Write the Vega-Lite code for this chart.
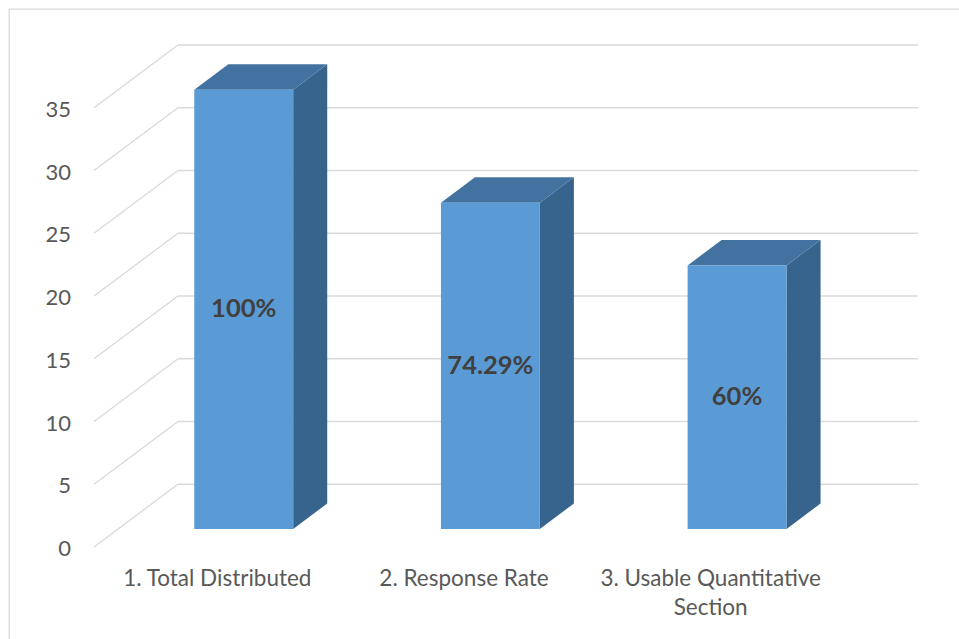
{
  "$schema": "https://vega.github.io/schema/vega-lite/v6.json",
  "width": 960,
  "height": 640,
  "autosize": {"type": "none"},
  "padding": {"left": 9, "top": 9, "right": 0, "bottom": 0},
  "background": "white",
  "config": {
    "view": {"stroke": "#d9d9d9", "strokeWidth": 1.3},
    "font": "Lato"
  },
  "datasets": {
    "bars": [
      {"category": "1. Total Distributed", "count": 35, "share": "100%"},
      {"category": "2. Response Rate", "count": 26, "share": "74.29%"},
      {"category": "3. Usable Quantitative Section", "count": 21, "share": "60%"}
    ],
    "ticks": [
      {"tick": 0}, {"tick": 5}, {"tick": 10}, {"tick": 15},
      {"tick": 20}, {"tick": 25}, {"tick": 30}, {"tick": 35}
    ]
  },
  "layer": [
    {
      "data": {"name": "ticks"},
      "transform": [
        {"calculate": "datum.tick + 5", "as": "tickBack"},
        {"calculate": "0", "as": "wallFront"},
        {"calculate": "0.3405", "as": "wallBack"}
      ],
      "mark": {"type": "rule", "color": "#d9d9d9", "strokeWidth": 1.3},
      "encoding": {
        "x": {"field": "wallFront", "type": "quantitative", "scale": {"domain": [0, 3.3405], "range": [85, 909], "nice": false, "zero": false}, "axis": null},
        "x2": {"field": "wallBack"},
        "y": {"field": "tick", "type": "quantitative", "scale": {"domain": [0, 40], "range": [538, 36], "nice": false}, "axis": null},
        "y2": {"field": "tickBack"}
      }
    },
    {
      "data": {"name": "ticks"},
      "transform": [
        {"calculate": "datum.tick + 5", "as": "tickBack"},
        {"calculate": "0.3405", "as": "wallLeft"},
        {"calculate": "3.3405", "as": "wallRight"}
      ],
      "mark": {"type": "rule", "color": "#d9d9d9", "strokeWidth": 1.3},
      "encoding": {
        "x": {"field": "wallLeft", "type": "quantitative", "scale": {"domain": [0, 3.3405], "range": [85, 909], "nice": false, "zero": false}, "axis": null},
        "x2": {"field": "wallRight"},
        "y": {"field": "tickBack", "type": "quantitative", "scale": {"domain": [0, 40], "range": [538, 36], "nice": false}, "axis": null}
      }
    },
    {
      "data": {"name": "ticks"},
      "transform": [{"calculate": "0", "as": "wallFront"}],
      "mark": {"type": "text", "font": "Lato", "fontSize": 22, "color": "#595959", "align": "right", "baseline": "middle", "dx": -23, "dy": 2},
      "encoding": {
        "x": {"field": "wallFront", "type": "quantitative", "scale": {"domain": [0, 3.3405], "range": [85, 909], "nice": false, "zero": false}, "axis": null},
        "y": {"field": "tick", "type": "quantitative", "scale": {"domain": [0, 40], "range": [538, 36], "nice": false}, "axis": null},
        "text": {"field": "tick", "type": "quantitative"}
      }
    },
    {
      "data": {"name": "bars"},
      "transform": [
        {"window": [{"op": "row_number", "as": "rn"}]},
        {"calculate": "[0, 1]", "as": "depth"},
        {"flatten": ["depth"]},
        {"calculate": "datum.rn - 1 + 0.8075 + datum.depth * 0.138", "as": "sx"},
        {"calculate": "1.44 + datum.depth * 2.03", "as": "sy0"},
        {"calculate": "datum.count + 1.44 + datum.depth * 2.03", "as": "sy1"}
      ],
      "mark": {"type": "area", "orient": "vertical", "color": "#37648c"},
      "encoding": {
        "x": {"field": "sx", "type": "quantitative", "scale": {"domain": [0, 3.3405], "range": [85, 909], "nice": false, "zero": false}, "axis": null},
        "y": {"field": "sy1", "type": "quantitative", "scale": {"domain": [0, 40], "range": [538, 36], "nice": false}, "axis": null},
        "y2": {"field": "sy0"},
        "detail": {"field": "category", "type": "nominal"}
      }
    },
    {
      "data": {"name": "bars"},
      "transform": [
        {"window": [{"op": "row_number", "as": "rn"}]},
        {"calculate": "[0, 1]", "as": "depth"},
        {"flatten": ["depth"]},
        {"calculate": "datum.rn - 1 + 0.4065 + datum.depth * 0.138", "as": "tx0"},
        {"calculate": "datum.rn - 1 + 0.8075 + datum.depth * 0.138", "as": "tx1"},
        {"calculate": "datum.count + 1.44 + datum.depth * 2.03", "as": "ty"}
      ],
      "mark": {"type": "area", "orient": "horizontal", "color": "#4372a0"},
      "encoding": {
        "y": {"field": "ty", "type": "quantitative", "scale": {"domain": [0, 40], "range": [538, 36], "nice": false}, "axis": null},
        "x": {"field": "tx0", "type": "quantitative", "scale": {"domain": [0, 3.3405], "range": [85, 909], "nice": false, "zero": false}, "axis": null},
        "x2": {"field": "tx1"},
        "detail": {"field": "category", "type": "nominal"}
      }
    },
    {
      "data": {"name": "bars"},
      "transform": [
        {"window": [{"op": "row_number", "as": "rn"}]},
        {"calculate": "datum.rn - 1 + 0.4065", "as": "fx0"},
        {"calculate": "datum.rn - 1 + 0.8075", "as": "fx1"},
        {"calculate": "1.44", "as": "fy0"},
        {"calculate": "datum.count + 1.44", "as": "fy1"}
      ],
      "mark": {"type": "rect", "color": "#5b9bd5"},
      "encoding": {
        "x": {"field": "fx0", "type": "quantitative", "scale": {"domain": [0, 3.3405], "range": [85, 909], "nice": false, "zero": false}, "axis": null},
        "x2": {"field": "fx1"},
        "y": {"field": "fy0", "type": "quantitative", "scale": {"domain": [0, 40], "range": [538, 36], "nice": false}, "axis": null},
        "y2": {"field": "fy1"}
      }
    },
    {
      "data": {"name": "bars"},
      "transform": [
        {"window": [{"op": "row_number", "as": "rn"}]},
        {"calculate": "datum.rn - 1 + 0.607", "as": "cx"},
        {"calculate": "datum.count / 2 + 1.44", "as": "cy"}
      ],
      "mark": {"type": "text", "font": "Lato", "fontSize": 25.5, "fontWeight": "bold", "color": "#404040", "align": "center", "baseline": "middle"},
      "encoding": {
        "x": {"field": "cx", "type": "quantitative", "scale": {"domain": [0, 3.3405], "range": [85, 909], "nice": false, "zero": false}, "axis": null},
        "y": {"field": "cy", "type": "quantitative", "scale": {"domain": [0, 40], "range": [538, 36], "nice": false}, "axis": null},
        "text": {"field": "share", "type": "nominal"}
      }
    },
    {
      "data": {"name": "bars"},
      "transform": [
        {"window": [{"op": "row_number", "as": "rn"}]},
        {"calculate": "datum.rn - 0.5", "as": "bx"},
        {"calculate": "0", "as": "floor"},
        {"calculate": "length(datum.category) > 24 ? [substring(datum.category, 0, lastindexof(substring(datum.category, 0, 24), ' ')), substring(datum.category, lastindexof(substring(datum.category, 0, 24), ' ') + 1)] : datum.category", "as": "lines"}
      ],
      "mark": {"type": "text", "font": "Lato", "fontSize": 22.5, "color": "#595959", "align": "center", "baseline": "alphabetic", "lineHeight": 29, "dy": 39},
      "encoding": {
        "x": {"field": "bx", "type": "quantitative", "scale": {"domain": [0, 3.3405], "range": [85, 909], "nice": false, "zero": false}, "axis": null},
        "y": {"field": "floor", "type": "quantitative", "scale": {"domain": [0, 40], "range": [538, 36], "nice": false}, "axis": null},
        "text": {"field": "lines", "type": "nominal"}
      }
    }
  ]
}
